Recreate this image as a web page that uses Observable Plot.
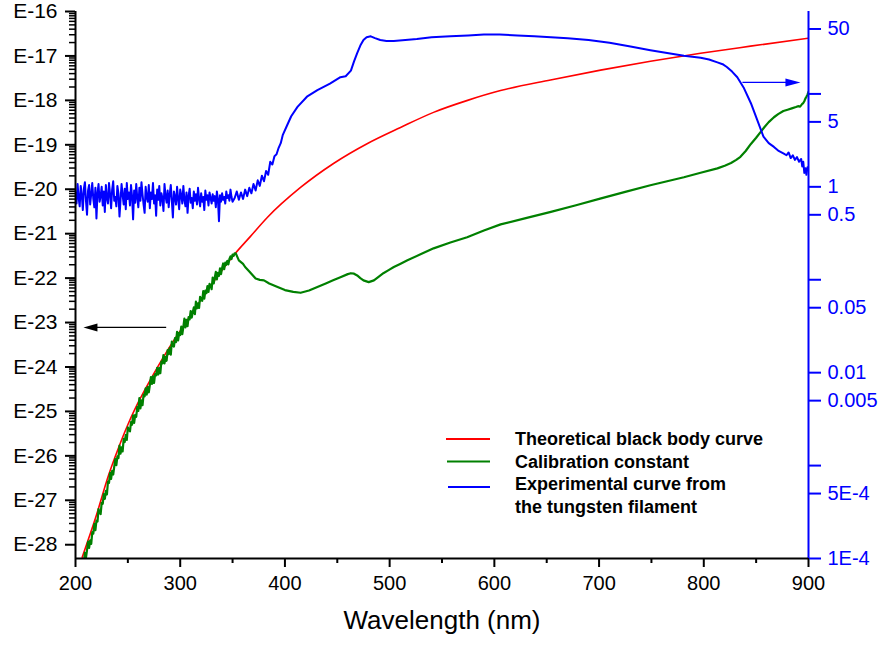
<!DOCTYPE html>
<html>
<head>
<meta charset="utf-8">
<script src="https://cdn.jsdelivr.net/npm/d3@7"></script>
<script src="https://cdn.jsdelivr.net/npm/@observablehq/plot@0.6"></script>
<style>
  html, body { margin: 0; padding: 0; background: #fff; }
  #chart svg { display: block; }
</style>
</head>
<body>
<div id="chart"></div>
<script>
// ---------- tick definitions ----------
const xMajorTicks = [200, 300, 400, 500, 600, 700, 800, 900];
const xMinorTicks = [250, 350, 450, 550, 650, 750, 850];
const leftExponents = [-28, -27, -26, -25, -24, -23, -22, -21, -20, -19, -18, -17, -16];
const minorMultipliers = [2, 3, 4, 5, 6, 7, 8, 9];
const rightTickValues = [1e-4, 5e-4, 1e-3, 0.005, 0.01, 0.05, 0.1, 0.5, 1, 5, 10, 50];
const rightTickLabels = ["1E-4", "5E-4", "", "0.005", "0.01", "0.05", "", "0.5", "1", "5", "", "50"];

// ---------- series (log10 of the plotted value) ----------
// Theoretical black body curve (left axis, log10)
const redNm = [206.4, 219.1, 231.8, 241.4, 250.9, 260.5, 274.8, 293.9, 303.1, 319.4,
  335.3, 350.9, 367.1, 383.4, 414.9, 446.4, 478.9, 510.4, 541.9, 574.4,
  605.9, 653.6, 701.4, 749.1, 796.9, 844.6, 900];
const redLog = [-28.28, -27.40, -26.42, -25.80, -25.25, -24.77, -24.15, -23.40, -23.08, -22.50,
  -21.97, -21.49, -21.06, -20.63, -19.96, -19.42, -18.97, -18.61, -18.27, -18.00,
  -17.78, -17.54, -17.32, -17.12, -16.94, -16.78, -16.60];

// Calibration constant (left axis, log10)
const greenNm = [
  207, 208, 209, 210, 211, 212, 213, 214, 215, 216,
  217, 218, 219, 220, 221, 222, 223, 224, 225, 226,
  227, 228, 229, 230, 231, 232, 233, 234, 235, 236,
  237, 238, 239, 240, 241, 242, 243, 244, 245, 246,
  247, 248, 249, 250, 251, 252, 253, 254, 255, 256,
  257, 258, 259, 260, 261, 262, 263, 264, 265, 266,
  267, 268, 269, 270, 271, 272, 273, 274, 275, 276,
  277, 278, 279, 280, 281, 282, 283, 284, 285, 286,
  287, 288, 289, 290, 291, 292, 293, 294, 295, 296,
  297, 298, 299, 300, 301, 302, 303, 304, 305, 306,
  307, 308, 309, 310, 311, 312, 313, 314, 315, 316,
  317, 318, 319, 320, 321, 322, 323, 324, 325, 326,
  327, 328, 329, 330, 331, 332, 333, 334, 335, 336,
  337, 338, 339, 340, 341, 342, 343, 344, 345, 346,
  347, 348, 349, 350, 351, 352, 353,
  356, 360, 362, 366, 372, 376, 380, 385, 393, 400,
  408, 415, 423, 431, 439, 446, 453, 460, 463, 466,
  469, 472, 475, 480, 485, 490, 494, 499, 504, 510,
  517, 530, 542, 558, 574, 590, 606, 630, 654, 678,
  701, 725, 749, 765, 781, 797, 813, 820, 826, 831,
  835, 840, 845, 850, 854, 858, 862, 867, 871, 876,
  880, 884, 888, 890, 892, 894, 895, 896, 897, 898,
  899, 900];
const greenLog = [
  -28.36, -28.39, -28.18, -28.29, -28.12, -27.93, -28.07, -27.90, -27.98, -27.72,
  -27.75, -27.53, -27.67, -27.46, -27.48, -27.20, -27.28, -27.31, -27.06, -27.08,
  -26.86, -26.97, -26.79, -26.87, -26.58, -26.61, -26.38, -26.52, -26.34, -26.42,
  -26.24, -26.07, -26.21, -26.01, -26.05, -25.77, -25.95, -25.81, -25.90, -25.62,
  -25.69, -25.53, -25.64, -25.36, -25.42, -25.45, -25.24, -25.30, -25.09, -25.26,
  -25.08, -25.12, -24.90, -24.99, -24.70, -24.93, -24.75, -24.86, -24.62, -24.66,
  -24.48, -24.62, -24.45, -24.57, -24.41, -24.23, -24.38, -24.21, -24.36, -24.16,
  -24.19, -24.02, -24.17, -24.02, -24.14, -23.88, -23.92, -23.73, -23.92, -23.77,
  -23.86, -23.62, -23.71, -23.57, -23.72, -23.43, -23.52, -23.54, -23.35, -23.44,
  -23.21, -23.40, -23.23, -23.28, -23.09, -23.26, -23.10, -22.91, -23.11, -22.94,
  -23.08, -22.88, -22.93, -22.74, -22.89, -22.77, -22.66, -22.81, -22.53, -22.68,
  -22.57, -22.67, -22.42, -22.50, -22.51, -22.29, -22.46, -22.28, -22.34, -22.18,
  -22.31, -22.13, -22.16, -22.25, -21.99, -22.12, -21.99, -21.86, -22.03, -21.88,
  -21.95, -21.78, -21.91, -21.77, -21.67, -21.80, -21.65, -21.70, -21.61, -21.69,
  -21.57, -21.51, -21.57, -21.47, -21.50, -21.44, -21.44,
  -21.60, -21.68, -21.75, -21.85, -22.01, -22.04, -22.05, -22.12, -22.20, -22.27,
  -22.31, -22.33, -22.28, -22.20, -22.12, -22.05, -21.98, -21.91, -21.89, -21.90,
  -21.94, -22.00, -22.05, -22.09, -22.05, -21.96, -21.89, -21.82, -21.75, -21.68,
  -21.60, -21.46, -21.33, -21.20, -21.08, -20.93, -20.79, -20.65, -20.51, -20.36,
  -20.21, -20.06, -19.91, -19.82, -19.73, -19.63, -19.53, -19.47, -19.41, -19.34,
  -19.27, -19.14, -18.98, -18.84, -18.72, -18.60, -18.49, -18.38, -18.31, -18.24,
  -18.21, -18.18, -18.15, -18.13, -18.14, -18.08, -18.06, -18.02, -17.96, -17.92,
  -17.87, -17.81];

// Experimental curve from the tungsten filament (right axis, log10)
const blueNm = [
  200, 201, 202, 203, 204, 205, 206, 207, 208, 209,
  210, 211, 212, 213, 214, 215, 216, 217, 218, 219,
  220, 221, 222, 223, 224, 225, 226, 227, 228, 229,
  230, 231, 232, 233, 234, 235, 236, 237, 238, 239,
  240, 241, 242, 243, 244, 245, 246, 247, 248, 249,
  250, 251, 252, 253, 254, 255, 256, 257, 258, 259,
  260, 261, 262, 263, 264, 265, 266, 267, 268, 269,
  270, 271, 272, 273, 274, 275, 276, 277, 278, 279,
  280, 281, 282, 283, 284, 285, 286, 287, 288, 289,
  290, 291, 292, 293, 294, 295, 296, 297, 298, 299,
  300, 301, 302, 303, 304, 305, 306, 307, 308, 309,
  310, 311, 312, 313, 314, 315, 316, 317, 318, 319,
  320, 321, 322, 323, 324, 325, 326, 327, 328, 329,
  330, 331, 332, 333, 334, 335, 336, 337, 338, 339,
  340, 341, 342, 343, 344, 345, 346, 347, 348, 349,
  350, 352, 354, 356, 358, 360, 362, 364, 366, 368,
  370, 372, 374, 376, 378, 380, 382, 384, 386, 388,
  390, 392, 394, 396, 398,
  402, 406, 412, 421, 431, 443, 453, 458, 463, 466,
  469, 472, 475, 478, 482, 486, 491, 497, 504, 515,
  526, 540, 558, 575, 590, 605, 622, 638, 654, 670,
  690, 710, 730, 749, 765, 781, 797, 805, 813, 818,
  822, 827, 832, 838, 845, 851, 857, 862, 867, 871,
  876, 879, 881, 883, 885, 887, 889, 891, 893, 894,
  895, 896, 897, 898, 899, 900];
const blueLog = [
  -0.06, -0.18, 0.03, -0.12, -0.21, 0.01, -0.09, -0.25, -0.02, 0.05,
  -0.15, -0.30, -0.04, 0.02, -0.19, -0.08, 0.04, -0.13, -0.22, -0.01,
  -0.34, -0.07, 0.03, -0.16, -0.10, 0.00, -0.20, -0.05, -0.27, 0.02,
  -0.12, -0.18, 0.04, -0.08, -0.23, -0.03, 0.06, -0.15, -0.11, -0.21,
  0.01, -0.07, -0.32, -0.14, 0.03, -0.09, -0.19, -0.02, -0.24, 0.04,
  -0.13, -0.06, -0.20, 0.02, -0.10, -0.35, -0.04, -0.17, 0.03, -0.12,
  -0.22, -0.01, -0.15, 0.05, -0.08, -0.19, -0.28, 0.00, -0.11, -0.16,
  0.02, -0.23, -0.06, -0.13, 0.04, -0.18, -0.09, -0.31, -0.03, -0.14,
  0.01, -0.20, -0.07, -0.12, -0.26, 0.03, -0.10, -0.17, -0.04, -0.22,
  -0.08, 0.02, -0.15, -0.33, -0.05, -0.11, -0.19, 0.00, -0.13, -0.24,
  -0.03, -0.09, -0.18, 0.01, -0.14, -0.21, -0.06, -0.28, -0.10, -0.02,
  -0.17, -0.12, -0.23, -0.05, -0.15, -0.08, -0.19, -0.01, -0.13, -0.21,
  -0.07, -0.16, -0.11, -0.25, -0.04, -0.14, -0.09, -0.20, -0.06, -0.12,
  -0.18, -0.08, -0.15, -0.10, -0.22, -0.05, -0.13, -0.37, -0.09, -0.16,
  -0.07, -0.14, -0.11, -0.18, -0.05, -0.12, -0.09, -0.15, -0.03, -0.11,
  -0.16, -0.12, -0.05, -0.14, -0.06, -0.13, -0.03, -0.10, -0.01, -0.07,
  0.03, -0.04, 0.07, 0.01, 0.12, 0.06, 0.17, 0.13, 0.27, 0.24,
  0.33, 0.35, 0.42, 0.47, 0.56,
  0.66, 0.76, 0.86, 0.97, 1.04, 1.11, 1.18, 1.19, 1.25, 1.35,
  1.44, 1.52, 1.58, 1.61, 1.62, 1.60, 1.58, 1.57, 1.57, 1.58,
  1.59, 1.61, 1.62, 1.63, 1.64, 1.64, 1.63, 1.62, 1.61, 1.60,
  1.58, 1.55, 1.51, 1.47, 1.44, 1.41, 1.39, 1.37, 1.34, 1.32,
  1.29, 1.24, 1.18, 1.07, 0.90, 0.72, 0.54, 0.47, 0.43, 0.39,
  0.36, 0.34, 0.37, 0.31, 0.34, 0.29, 0.32, 0.27, 0.30, 0.22,
  0.27, 0.15, 0.20, 0.13, 0.21, 0.18];

// ---------- scale set-up ----------
const xDomain = [200, 900];
const leftDomain = [-28.31, -16];      // log10 of left axis
const rightDomain = [-4, 1.887];       // log10 of right axis
const toLeft = r => leftDomain[0] + (r - rightDomain[0]) * (leftDomain[1] - leftDomain[0]) / (rightDomain[1] - rightDomain[0]);

const leftMinor = [];
for (const e of leftExponents) for (const m of minorMultipliers) {
  const v = e + Math.log10(m);
  if (v >= leftDomain[0] && v <= leftDomain[1]) leftMinor.push(v);
}
const rightTickY = rightTickValues.map(v => toLeft(Math.log10(v)));
const rightLabelFor = d => {
  let best = 0;
  rightTickY.forEach((t, i) => { if (Math.abs(t - d) < Math.abs(rightTickY[best] - d)) best = i; });
  return rightTickLabels[best];
};

// annotation arrows (data coordinates)
const leftArrow = [{x1: 286.6, x2: 215, tip: 207.6, y: -23.11}];
const rightArrow = [{x1: 836.9, x2: 885, tip: 892.3, y: toLeft(Math.log10(13.3))}];
const headLeft = {draw(ctx) { ctx.moveTo(0, 0); ctx.lineTo(14, -4); ctx.lineTo(14, 4); ctx.closePath(); }};
const headRight = {draw(ctx) { ctx.moveTo(0, 0); ctx.lineTo(-15, -4); ctx.lineTo(-15, 4); ctx.closePath(); }};

const font = "'Liberation Sans', Arial, Helvetica, sans-serif";

const chart = Plot.plot({
  width: 885,
  height: 649,
  marginLeft: 75,
  marginRight: 77,
  marginTop: 11,
  marginBottom: 91,
  style: {fontFamily: font, fontSize: "20px", background: "#fff", color: "#000", overflow: "visible"},
  x: {domain: xDomain},
  y: {domain: leftDomain},
  marks: [
    Plot.line(redLog, {x: (d, i) => redNm[i], y: d => d, stroke: "#ff0000", strokeWidth: 1.6, curve: "monotone-x", clip: true}),
    Plot.line(greenLog, {x: (d, i) => greenNm[i], y: d => d, stroke: "#008000", strokeWidth: 2.2, clip: true}),
    Plot.line(blueLog, {x: (d, i) => blueNm[i], y: d => toLeft(d), stroke: "#0000ff", strokeWidth: 2, clip: true}),
    // axis lines
    Plot.ruleX([xDomain[0]], {stroke: "#000", strokeWidth: 2}),
    Plot.ruleX([xDomain[1]], {stroke: "#0000ff", strokeWidth: 2}),
    Plot.ruleY([leftDomain[0]], {stroke: "#000", strokeWidth: 2}),
    // axes
    Plot.axisX({ticks: xMajorTicks, tickSize: 9, tickPadding: 8, fontSize: 20, strokeWidth: 2, label: null}),
    Plot.axisX({ticks: xMinorTicks, tickSize: 5, tickFormat: () => "", strokeWidth: 2, label: null}),
    Plot.axisY({anchor: "left", ticks: leftExponents, tickSize: 10, tickPadding: 8, tickFormat: d => `E${d}`, fontSize: 21, strokeWidth: 2, label: null}),
    Plot.axisY({anchor: "left", ticks: leftMinor, tickSize: 6, tickFormat: () => "", strokeWidth: 1.5, label: null}),
    Plot.axisY({anchor: "right", ticks: rightTickY, tickSize: 12, tickPadding: 7, tickFormat: rightLabelFor, color: "#0000ff", fontSize: 20, strokeWidth: 2, label: null}),
    // x title
    Plot.text(["Wavelength (nm)"], {frameAnchor: "bottom", dy: 70, fontSize: 26, fill: "#000"}),
    // arrows
    Plot.link(leftArrow, {x1: "x1", x2: "x2", y1: "y", y2: "y", stroke: "#000", strokeWidth: 1.3}),
    Plot.dot(leftArrow, {x: "tip", y: "y", symbol: headLeft, fill: "#000", stroke: "none"}),
    Plot.link(rightArrow, {x1: "x1", x2: "x2", y1: "y", y2: "y", stroke: "#0000ff", strokeWidth: 1.3}),
    Plot.dot(rightArrow, {x: "tip", y: "y", symbol: headRight, fill: "#0000ff", stroke: "none"})
  ]
});

// ---------- legend ----------
const legendItems = [
  {label: ["Theoretical black body curve"], color: "#ff0000"},
  {label: ["Calibration constant"], color: "#008000"},
  {label: ["Experimental curve from", "the tungsten filament"], color: "#0000ff"}
];
const svg = d3.select(chart);
const lg = svg.append("g")
  .attr("font-family", font).attr("font-size", 18).attr("font-weight", "bold")
  .attr("text-anchor", "start");
let yy = 439;
legendItems.forEach((it, k) => {
  const ly = yy + (k === 2 ? 3 : 0);
  lg.append("line").attr("x1", 446 + k).attr("x2", 490).attr("y1", ly).attr("y2", ly)
    .attr("stroke", it.color).attr("stroke-width", 1.8);
  it.label.forEach(t => {
    lg.append("text").attr("x", 515).attr("y", yy).attr("dy", "0.35em").attr("fill", "#000").text(t);
    yy += 22.5;
  });
});

document.getElementById("chart").appendChild(chart);
</script>
</body>
</html>
